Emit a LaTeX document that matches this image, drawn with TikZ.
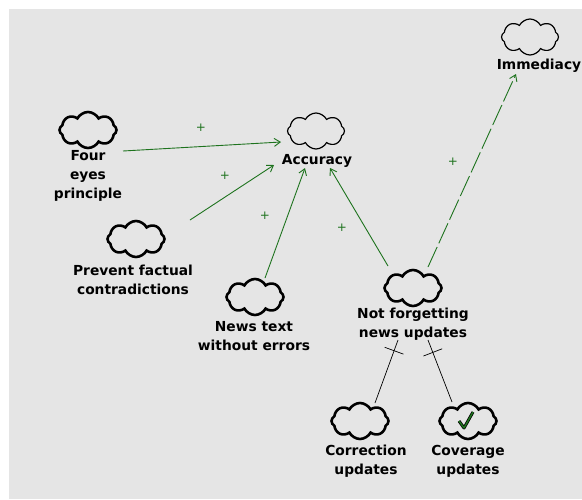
\documentclass[tikz,border=0pt]{standalone}
\usepackage{fontspec}
\newfontfamily\cldfont{DejaVu Sans}
\usetikzlibrary{shapes.symbols,arrows.meta,decorations.markings}

\definecolor{canvasgray}{RGB}{229,229,229}
\definecolor{linkgreen}{RGB}{30,115,30}

\begin{document}
\begin{tikzpicture}[x=1pt,y=-1pt,
  idea/.style={draw,cloud,cloud puffs=8,cloud puff arc=125,aspect=1.7,minimum width=57pt,minimum height=36pt,inner sep=0pt,line width=2.6pt},
  goal/.style={idea,line width=1.2pt},
  lbl/.style={font=\cldfont\fontsize{13.8}{19}\selectfont\bfseries,align=center,inner sep=0pt},
  plus/.style={text=linkgreen,font=\cldfont\fontsize{12}{12}\selectfont,inner sep=0pt},
  link/.style={draw=linkgreen,line width=0.9pt,-{Straight Barb[length=6pt,width=8pt]}},
  block/.style={draw=black,line width=0.7pt,postaction={decorate},
    decoration={markings,mark=at position #1 with {\draw[line width=0.7pt] (0,-10pt) -- (0,10pt);}}}]
  % canvas
  \useasboundingbox (0,0) rectangle (582,499);
  \fill[white] (0,0) rectangle (582,499);
  \fill[canvasgray] (9,9) rectangle (582,499);
  % clouds
  \node[goal] (imm) at (530,37) {};
  \node[idea] (four) at (88,130) {};
  \node[goal] (acc) at (316,131) {};
  \node[idea] (prev) at (136,239) {};
  \node[idea] (news) at (255,297) {};
  \node[idea] (nf) at (413,288) {};
  \node[idea] (corr) at (360,421) {};
  \node[idea] (cov) at (468,421) {};
  % labels
  \node[lbl] (imml) at (539,66) {Immediacy};
  \node[lbl] (fourl) at (88,176) {Four\\eyes\\principle};
  \node[lbl] (accl) at (317,161) {Accuracy};
  \node[lbl] (prevl) at (133,280) {Prevent factual\\contradictions};
  \node[lbl] (newsl) at (254,336) {News text\\without errors};
  \node[lbl] (nfl) at (413,324) {Not forgetting\\news updates};
  \node[lbl] (corrl) at (366,461) {Correction\\updates};
  \node[lbl] (covl) at (468,461) {Coverage\\updates};
  % tick in the coverage cloud
  \draw[shift={(cov.center)},line width=3pt,line join=round] (-9,0) -- (-4,7) -- (5,-9);
  \draw[shift={(cov.center)},linkgreen,line width=1.5pt,line join=round] (-9,0) -- (-4,7) -- (5,-9);
  % positive links
  \draw[link] ([shift={(35,21)}]four.center) -- ([shift={(-35,11)}]acc.center);
  \draw[link] ([shift={(54,-19)}]prev.center) -- ([shift={(-43,4)}]accl.center);
  \draw[link] ([shift={(10,-19)}]news.center) -- ([shift={(-12,7)}]accl.center);
  \draw[link] ([shift={(-25,-22)}]nf.center) -- ([shift={(13,7)}]accl.center);
  \draw[link,dash pattern=on 22pt off 4pt] ([shift={(15,-21)}]nf.center) -- ([shift={(-23,8)}]imml.center);
  \node[plus] (p1) at (201,128) {+};
  \node[plus] (p2) at (225,176) {+};
  \node[plus] (p3) at (265,216) {+};
  \node[plus] (p4) at (342,228) {+};
  \node[plus] (p5) at (453,162) {+};
  % blocking links
  \draw[block=0.17] ([shift={(-15,16)}]nfl.center) -- ([shift={(15,-18)}]corr.center);
  \draw[block=0.2] ([shift={(15,16)}]nfl.center) -- ([shift={(-16,-19)}]cov.center);
\end{tikzpicture}
\end{document}
